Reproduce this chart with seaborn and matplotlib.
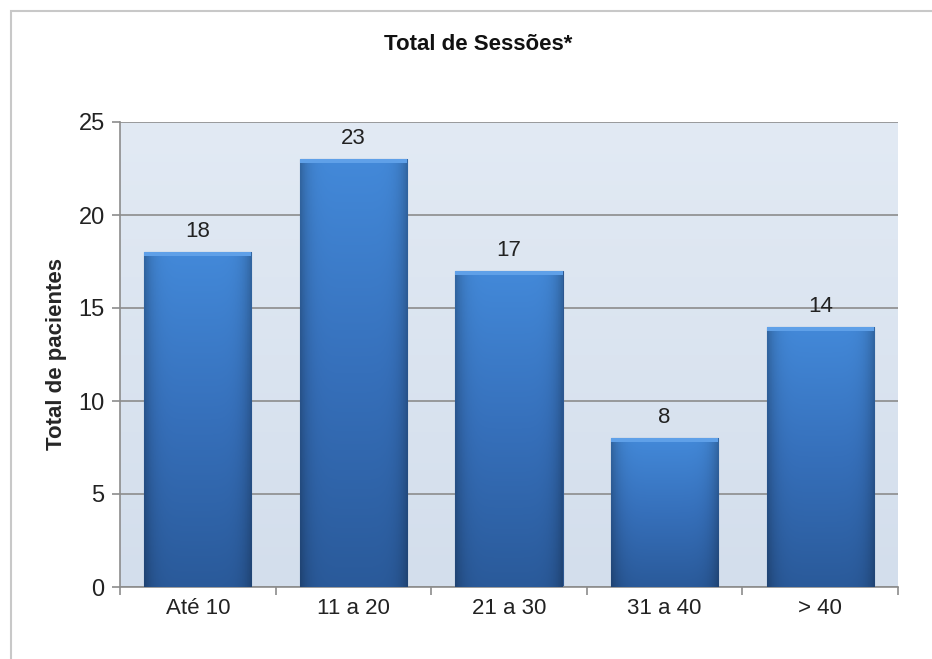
import seaborn as sns
import numpy as np
import pandas as pd
from matplotlib import pyplot as plt
from matplotlib import patches
from matplotlib.colors import LinearSegmentedColormap

categorias = ['Até 10', '11 a 20', '21 a 30', '31 a 40', '> 40']
pacientes = [18, 23, 17, 8, 14]

sns.set_theme(style="white")
plt.rcParams['font.family'] = ['Liberation Sans', 'DejaVu Sans']

df = pd.DataFrame({'sessoes': categorias, 'pacientes': pacientes})

fig = plt.figure(figsize=(9.32, 6.59), dpi=100)
# moldura do grafico (so esquerda e topo aparecem)
fig.patches.append(patches.Rectangle((11 / 932, -0.05), 1.2, 1 - 11 / 659 + 0.05,
                                     transform=fig.transFigure, fill=False,
                                     edgecolor='#c8c8c8', linewidth=1.5))
ax = fig.add_axes([120 / 932, 1 - 587 / 659, 778 / 932, 465 / 659])

# fundo com gradiente azul claro
bg = LinearSegmentedColormap.from_list('bg', ['#d3deec', '#e2eaf4'])
ax.imshow(np.linspace(0, 1, 256).reshape(-1, 1), cmap=bg, aspect='auto',
          extent=[-0.5, 4.5, 0, 25], origin='lower', zorder=0)

sns.barplot(data=df, x='sessoes', y='pacientes', color='#3b74c0', width=0.69,
            saturation=1, ax=ax, zorder=2)

# gradiente nas barras
cmap_bar = LinearSegmentedColormap.from_list('bar', ['#2a5a9a', '#3670bb', '#4389d9'])
grad = np.linspace(0, 1, 256).reshape(-1, 1)
side = 1 - 0.25 * np.abs(np.linspace(-1, 1, 64)) ** 6
for p in ax.patches:
    x0, w, h = p.get_x(), p.get_width(), p.get_height()
    img = cmap_bar(grad)[:, :, :3] * side.reshape(1, -1, 1)
    im = ax.imshow(img, aspect='auto', extent=[x0, x0 + w, 0, h],
                   origin='lower', zorder=3)
    im.set_clip_path(p)
    ax.add_patch(patches.Rectangle((x0, h - 0.22), w, 0.22, color='#5fa0e8',
                                   zorder=4, linewidth=0))
    p.set_edgecolor('#2d5790')
    p.set_linewidth(0.8)

ax.bar_label(ax.containers[0], fontsize=16, padding=7, color='#222222')

ax.set_xlim(-0.5, 4.5)
ax.set_ylim(0, 25)
ax.set_yticks([0, 5, 10, 15, 20, 25])
ax.yaxis.grid(True, color='#8c8c8c', linewidth=1.2, zorder=1)
ax.set_axisbelow(True)
for s in ['top', 'right']:
    ax.spines[s].set_visible(False)
for s in ['left', 'bottom']:
    ax.spines[s].set_color('#8c8c8c')
    ax.spines[s].set_linewidth(1.2)

ax.set_xticks(np.arange(len(categorias)))
ax.set_xticklabels(categorias)
ax.set_xticks(np.arange(-0.5, len(categorias)), minor=True)
ax.tick_params(axis='x', which='major', length=0, pad=8, labelsize=16, labelcolor='#222222')
ax.tick_params(axis='x', which='minor', bottom=True, length=6, color='#8c8c8c', width=1.2)
ax.tick_params(axis='y', left=True, length=6, color='#8c8c8c', width=1.2,
               labelsize=17, labelcolor='#222222', pad=5)

ax.set_xlabel('')
ax.set_ylabel('Total de pacientes', fontsize=16, fontweight='bold', labelpad=8)
fig.text(478 / 932, 1 - 45 / 659, 'Total de Sessões*', ha='center', va='center',
         fontsize=16, fontweight='bold', color='#111111')

fig.savefig('out.png', dpi=100, facecolor='white')
